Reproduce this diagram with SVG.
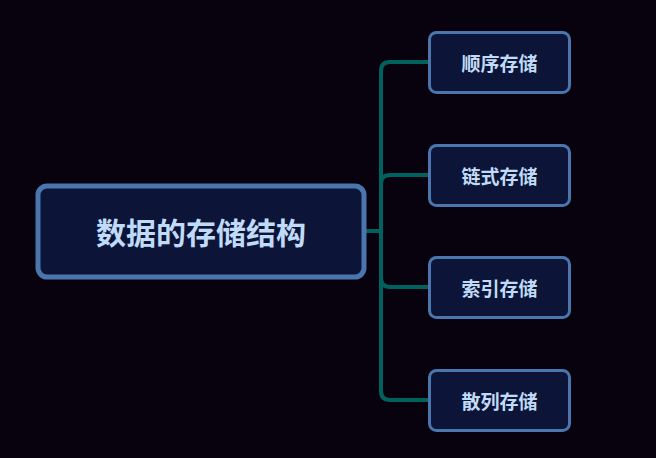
<svg xmlns="http://www.w3.org/2000/svg" width="656" height="458" viewBox="0 0 656 458">
<style>
.box{fill:#0c1538;stroke:#4a76ad}
.t{fill:#c0dbf7;font-family:"Noto Sans CJK SC",sans-serif;font-weight:bold;text-anchor:middle;dominant-baseline:central}
.c{fill:none;stroke:#00625f;stroke-width:4}
</style>
<rect width="656" height="458" fill="#08020f"/>
<g id="connectors">
<path class="c" d="M366 231H381"/>
<path class="c" d="M429 62H390Q381 62 381 71V391Q381 400 390 400H429"/>
<path class="c" d="M429 175H390Q381 175 381 184"/>
<path class="c" d="M429 287H390Q381 287 381 278"/>
</g>
<g id="root"><rect class="box" x="38" y="186" width="326" height="91" rx="9" stroke-width="5"/><text class="t" x="201" y="231" font-size="30">数据的存储结构</text></g>
<g id="n1"><rect class="box" x="429.5" y="32.5" width="140" height="60" rx="7" stroke-width="3"/><text class="t" x="499.5" y="62.5" font-size="19">顺序存储</text></g>
<g id="n2"><rect class="box" x="429.5" y="145.5" width="140" height="60" rx="7" stroke-width="3"/><text class="t" x="499.5" y="175.5" font-size="19">链式存储</text></g>
<g id="n3"><rect class="box" x="429.5" y="257.5" width="140" height="60" rx="7" stroke-width="3"/><text class="t" x="499.5" y="287.5" font-size="19">索引存储</text></g>
<g id="n4"><rect class="box" x="429.5" y="370.5" width="140" height="60" rx="7" stroke-width="3"/><text class="t" x="499.5" y="400.5" font-size="19">散列存储</text></g>
</svg>
